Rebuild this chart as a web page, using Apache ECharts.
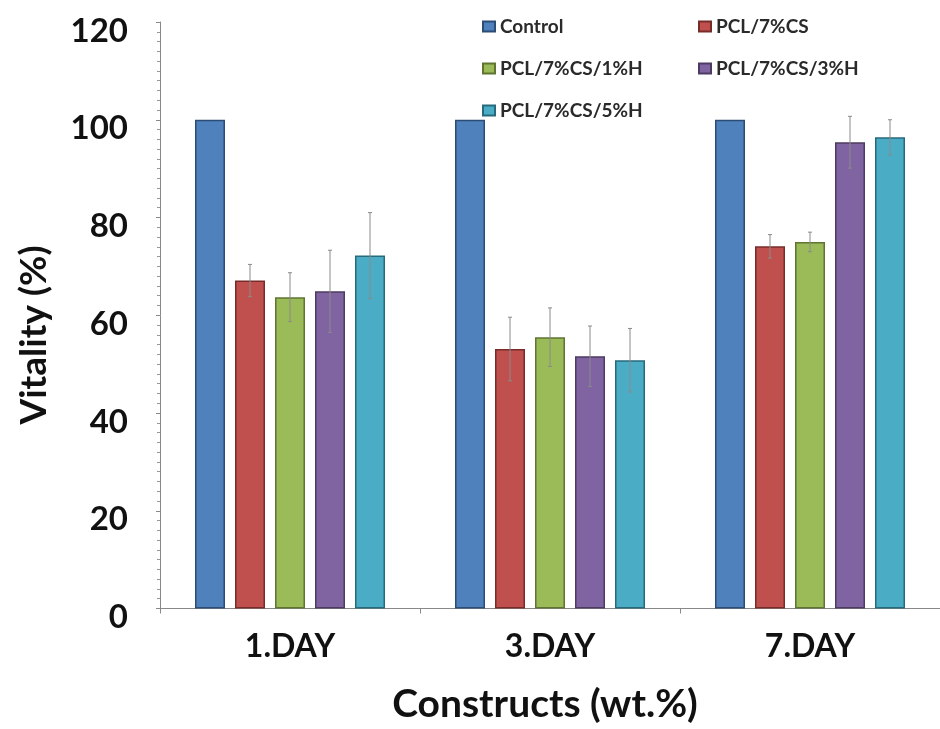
<!DOCTYPE html>
<html>
<head>
<meta charset="utf-8">
<script src="https://cdn.jsdelivr.net/npm/echarts@6/dist/echarts.min.js"></script>
<style>
html,body{margin:0;padding:0;background:#fff;}
#main{width:940px;height:729px;}
</style>
</head>
<body>
<div id="main"></div>
<script>
const categories = ['1.DAY', '3.DAY', '7.DAY'];
const seriesNames = ['Control', 'PCL/7%CS', 'PCL/7%CS/1%H', 'PCL/7%CS/3%H', 'PCL/7%CS/5%H'];
const controlVals = [100, 100, 100];
const pclVals = [67.1, 53.1, 74.1];
const h1Vals = [63.7, 55.5, 75.0];
const h3Vals = [64.9, 51.6, 95.4];
const h5Vals = [72.2, 50.8, 96.4];
const controlErr = [0, 0, 0];
const pclErr = [3.3, 6.5, 2.4];
const h1Err = [5.0, 6.0, 2.0];
const h3Err = [8.4, 6.2, 5.3];
const h5Err = [8.8, 6.5, 3.6];
const yTicks = [0, 20, 40, 60, 80, 100, 120];

const allVals = [controlVals, pclVals, h1Vals, h3Vals, h5Vals];
const allErr = [controlErr, pclErr, h1Err, h3Err, h5Err];
const colors = ['#4F81BD', '#C0504D', '#9BBB59', '#8064A2', '#4BACC6'];
const borders = ['#2C4D75', '#772C2A', '#5F7530', '#4D3B62', '#276A7C'];

const BAR_W = 30, BAR_GAP = 10;
const FONT = 'Lato';

const chart = echarts.init(document.getElementById('main'));

const series = [];
seriesNames.forEach((name, i) => {
  series.push({
    name: name,
    type: 'bar',
    barWidth: BAR_W,
    barGap: (BAR_GAP / BAR_W * 100) + '%',
    itemStyle: {color: colors[i], borderColor: borders[i], borderWidth: 1.5},
    data: allVals[i]
  });
});
seriesNames.forEach((name, i) => {
  if (allErr[i].every(e => e === 0)) return;
  series.push({
    type: 'custom',
    name: name + ' err',
    z: 5,
    silent: true,
    data: allVals[i].map((v, k) => [k, v - allErr[i][k], v + allErr[i][k]]),
    renderItem: function (params, api) {
      const off = (i - 2) * (BAR_W + BAR_GAP);
      const lo = api.coord([api.value(0), api.value(1)]);
      const hi = api.coord([api.value(0), api.value(2)]);
      const x = lo[0] + off;
      const st = {stroke: '#8a8a8a', lineWidth: 1};
      return {
        type: 'group',
        children: [
          {type: 'line', shape: {x1: x, y1: lo[1], x2: x, y2: hi[1]}, style: st},
          {type: 'line', shape: {x1: x - 2, y1: hi[1], x2: x + 2, y2: hi[1]}, style: st},
          {type: 'line', shape: {x1: x - 2, y1: lo[1], x2: x + 2, y2: lo[1]}, style: st}
        ]
      };
    }
  });
});

const legendText = {fontFamily: FONT, fontWeight: 'bold', fontSize: 19, color: '#2a2a2a'};

chart.setOption({
  animation: false,
  backgroundColor: '#ffffff',
  grid: {left: 160, right: 0, top: 22, bottom: 119},
  legend: [
    {orient: 'vertical', left: 482, top: 17, padding: 0, itemWidth: 12, itemHeight: 10, itemGap: 23,
      icon: 'rect', textStyle: legendText, data: [seriesNames[0], seriesNames[2], seriesNames[4]]},
    {orient: 'vertical', left: 698, top: 17, padding: 0, itemWidth: 12, itemHeight: 10, itemGap: 23,
      icon: 'rect', textStyle: legendText, data: [seriesNames[1], seriesNames[3]]}
  ],
  xAxis: {
    type: 'category',
    data: categories,
    axisLine: {lineStyle: {color: '#888', width: 1}},
    axisTick: {show: true, alignWithLabel: false, length: 5, lineStyle: {color: '#888'}},
    axisLabel: {fontFamily: FONT, fontWeight: 'bold', fontSize: 32, color: '#111', margin: 22},
    name: 'Constructs (wt.%)',
    nameLocation: 'middle',
    nameGap: 96,
    nameTextStyle: {fontFamily: FONT, fontWeight: 'bold', fontSize: 39, color: '#111', verticalAlign: 'middle',
      padding: [0, 10, 0, 0]}
  },
  yAxis: {
    type: 'value',
    min: yTicks[0],
    max: yTicks[yTicks.length - 1],
    interval: yTicks[1] - yTicks[0],
    axisLine: {show: true, lineStyle: {color: '#888', width: 1}},
    axisTick: {show: true, length: 4, lineStyle: {color: '#888'}},
    minorTick: {show: true, splitNumber: 10, length: 3, lineStyle: {color: '#999'}},
    splitLine: {show: false},
    axisLabel: {fontFamily: FONT, fontWeight: 'bold', fontSize: 33, color: '#111', margin: 32,
      verticalAlign: 'top', lineHeight: 18}
  },
  graphic: [{
    type: 'text',
    x: 34, y: 335,
    rotation: Math.PI / 2,
    style: {text: 'Vitality (%)', fontFamily: FONT, fontWeight: 'bold', fontSize: 37, fill: '#111',
      align: 'center', verticalAlign: 'middle'}
  }],
  series: series
});
</script>
</body>
</html>
